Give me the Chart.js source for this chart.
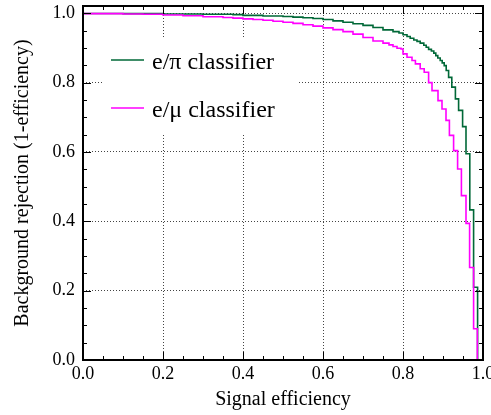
<!DOCTYPE html>
<html lang="en">
<head>
  <meta charset="UTF-8" />
  <title>Classifier ROC</title>
  <script src="https://cdn.jsdelivr.net/npm/chart.js"></script>
  <style>
    html, body { margin: 0; padding: 0; background: #fff; }
    #wrap { width: 491px; height: 415px; }
  </style>
</head>
<body>
  <div id="wrap"><canvas id="roc" width="491" height="415"></canvas></div>
  <script>
    // e/pi classifier: signal efficiency vs background rejection (step points)
    const piEff = [0, 0.10, 0.20, 0.30, 0.375, 0.40, 0.45, 0.50, 0.525, 0.55,
                   0.575, 0.60, 0.625, 0.65, 0.675, 0.70, 0.725, 0.75, 0.775, 0.79,
                   0.80, 0.81, 0.818, 0.827, 0.835, 0.843, 0.852, 0.858, 0.864, 0.871,
                   0.877, 0.882, 0.887, 0.893, 0.898, 0.903, 0.908, 0.914, 0.922, 0.931,
                   0.939, 0.949, 0.9575, 0.967, 0.9765, 0.9865, 0.995];
    const piRej = [1.000, 0.9995, 0.999, 0.998, 0.997, 0.996, 0.994, 0.992, 0.9905, 0.989,
                   0.987, 0.985, 0.982, 0.978, 0.974, 0.970, 0.965, 0.959, 0.952, 0.947,
                   0.943, 0.938, 0.933, 0.928, 0.923, 0.919, 0.914, 0.908, 0.902, 0.896,
                   0.891, 0.885, 0.878, 0.871, 0.864, 0.857, 0.849, 0.835, 0.815, 0.787,
                   0.753, 0.720, 0.673, 0.595, 0.433, 0.210, 0.0];

    // e/mu classifier
    const muEff = [0, 0.10, 0.15, 0.20, 0.25, 0.30, 0.35, 0.375, 0.40, 0.425,
                   0.45, 0.475, 0.50, 0.525, 0.55, 0.575, 0.60, 0.625, 0.65, 0.675,
                   0.70, 0.725, 0.75, 0.765, 0.775, 0.785, 0.795, 0.80, 0.81, 0.8225,
                   0.831, 0.843, 0.853, 0.864, 0.8725, 0.8875, 0.8975, 0.9075, 0.916, 0.9265,
                   0.9365, 0.946, 0.9575, 0.9665, 0.9765, 0.9858, 0.995];
    const muRej = [1.000, 0.999, 0.998, 0.997, 0.995, 0.993, 0.990, 0.988, 0.986, 0.984,
                   0.982, 0.980, 0.977, 0.974, 0.971, 0.967, 0.963, 0.958, 0.953, 0.947,
                   0.940, 0.930, 0.920, 0.914, 0.909, 0.904, 0.899, 0.897, 0.883, 0.873,
                   0.864, 0.854, 0.840, 0.830, 0.800, 0.777, 0.748, 0.724, 0.691, 0.648,
                   0.604, 0.551, 0.474, 0.394, 0.267, 0.090, 0.0];

    const seriesNames = ['e/\u03c0 classifier', 'e/\u03bc classifier'];
    const xTitle = 'Signal efficiency';
    const yTitle = 'Background rejection (1-efficiency)';
    const xTicks = [0, 0.2, 0.4, 0.6, 0.8, 1.0];
    const yTicks = [0, 0.2, 0.4, 0.6, 0.8, 1.0];
    const minorStep = 0.05;

    const GREEN = '#006837';
    const MAGENTA = '#ff00ff';
    const FONT = "'Liberation Serif', 'Times New Roman', serif";

    const toPoints = (xs, ys) => xs.map((v, i) => ({ x: v, y: ys[i] }));

    // frame, inward ticks, axis titles and the in-plot legend
    const rocDecor = {
      id: 'rocDecor',
      beforeDatasetsDraw(chart) {
        const { ctx, chartArea: a } = chart;
        ctx.save();
        ctx.fillStyle = '#fff';
        ctx.fillRect(a.left + 20, a.top + 31, 195, 96);
        const rows = [
          { name: seriesNames[0], color: GREEN, y: a.top + 54 },
          { name: seriesNames[1], color: MAGENTA, y: a.top + 102 }
        ];
        ctx.font = '24px ' + FONT;
        ctx.textBaseline = 'alphabetic';
        rows.forEach(r => {
          ctx.strokeStyle = r.color;
          ctx.lineWidth = 1.6;
          ctx.beginPath();
          ctx.moveTo(a.left + 28, r.y);
          ctx.lineTo(a.left + 61, r.y);
          ctx.stroke();
          ctx.fillStyle = '#000';
          ctx.fillText(r.name, a.left + 69, r.y + 9);
        });
        ctx.restore();
      },
      afterDraw(chart) {
        const { ctx, chartArea: a, scales: { x, y } } = chart;
        ctx.save();
        ctx.strokeStyle = '#000';
        ctx.lineWidth = 1;
        ctx.beginPath();
        for (let v = 0; v <= 1.0001; v += minorStep) {
          const major = Math.abs(v / 0.2 - Math.round(v / 0.2)) < 1e-6;
          const len = major ? 8 : 4;
          const px = Math.round(x.getPixelForValue(v)) + 0.5;
          ctx.moveTo(px, a.bottom); ctx.lineTo(px, a.bottom - len);
          ctx.moveTo(px, a.top); ctx.lineTo(px, a.top + len);
          const py = Math.round(y.getPixelForValue(v)) + 0.5;
          ctx.moveTo(a.left, py); ctx.lineTo(a.left + len, py);
          ctx.moveTo(a.right, py); ctx.lineTo(a.right - len, py);
        }
        ctx.stroke();
        ctx.lineWidth = 2;
        ctx.strokeRect(a.left, a.top, a.right - a.left, a.bottom - a.top);

        // axis titles
        ctx.fillStyle = '#000';
        ctx.font = '20px ' + FONT;
        ctx.textAlign = 'center';
        ctx.textBaseline = 'alphabetic';
        ctx.fillText(xTitle, (a.left + a.right) / 2, 405);
        ctx.translate(28, (a.top + a.bottom) / 2);
        ctx.rotate(-Math.PI / 2);
        ctx.fillText(yTitle, 0, 0);
        ctx.restore();
      }
    };

    new Chart(document.getElementById('roc'), {
      type: 'line',
      data: {
        datasets: [
          {
            label: seriesNames[0],
            data: toPoints(piEff, piRej),
            borderColor: GREEN,
            borderWidth: 1.6,
            stepped: 'after',
            pointRadius: 0,
            fill: false,
            order: 1
          },
          {
            label: seriesNames[1],
            data: toPoints(muEff, muRej),
            borderColor: MAGENTA,
            borderWidth: 1.6,
            stepped: 'after',
            pointRadius: 0,
            fill: false,
            order: 0
          }
        ]
      },
      options: {
        responsive: false,
        animation: false,
        layout: { padding: { top: 6, right: 8, left: 0, bottom: 0 } },
        plugins: { legend: { display: false }, tooltip: { enabled: false } },
        scales: {
          x: {
            type: 'linear',
            min: 0,
            max: 1,
            afterBuildTicks: s => { s.ticks = xTicks.map(v => ({ value: v })); },
            afterFit: s => { s.height = 55; s.paddingLeft = 0; s.paddingRight = 0; },
            grid: { color: '#444', lineWidth: 1, drawTicks: false },
            border: { display: false, dash: [1, 2] },
            ticks: {
              padding: 3,
              color: '#000',
              font: { family: FONT, size: 18 },
              maxRotation: 0,
              callback: v => Number(v).toFixed(1)
            }
          },
          y: {
            type: 'linear',
            min: 0,
            max: 1.021,
            afterBuildTicks: s => { s.ticks = yTicks.map(v => ({ value: v })); },
            afterFit: s => { s.width = 83; s.paddingTop = 0; s.paddingBottom = 0; },
            grid: { color: '#444', lineWidth: 1, drawTicks: false },
            border: { display: false, dash: [1, 2] },
            ticks: {
              padding: 8,
              color: '#000',
              font: { family: FONT, size: 18 },
              callback: v => Number(v).toFixed(1)
            }
          }
        }
      },
      plugins: [rocDecor]
    });
  </script>
</body>
</html>
